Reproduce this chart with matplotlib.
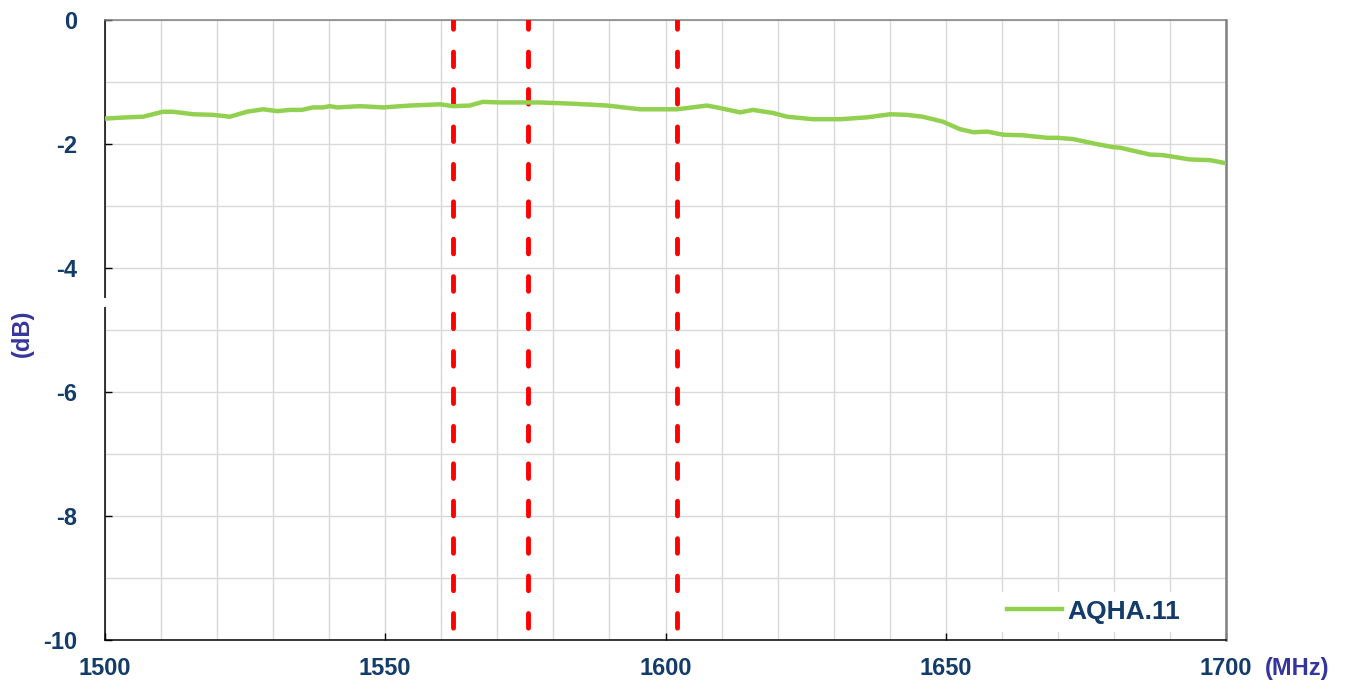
"""Insertion loss of AQHA.11 over 1500-1700 MHz with GNSS band markers."""

import matplotlib

matplotlib.use("Agg")
import matplotlib.pyplot as plt
from matplotlib.ticker import MultipleLocator

FREQ_MHZ = [
    1500, 1503.9, 1506.8, 1510.3, 1512.1, 1515.7, 1519.3, 1522.3, 1525.3, 1528.2,
    1530.7, 1533.0, 1535.1, 1537.1, 1538.9, 1540.1, 1541.4, 1545.5, 1549.6, 1554.4,
    1559.8, 1562.1, 1565.1, 1567.4, 1570.5, 1574.5, 1577.6, 1583.5, 1589.6, 1595.5,
    1602.1, 1607.4, 1609.2, 1613.3, 1615.6, 1619.2, 1621.7, 1626.3, 1631.1, 1636.0,
    1640.1, 1643.1, 1645.9, 1649.5, 1652.5, 1654.9, 1657.4, 1660.2, 1663.8, 1668.1,
    1669.8, 1672.7, 1676.3, 1679.8, 1681.1, 1686.4, 1688.8, 1693.6, 1697.1, 1700,
]
LOSS_DB = [
    -1.59, -1.57, -1.56, -1.48, -1.48, -1.52, -1.53, -1.56, -1.48, -1.44,
    -1.47, -1.45, -1.45, -1.41, -1.41, -1.39, -1.41, -1.39, -1.41, -1.38,
    -1.36, -1.39, -1.38, -1.32, -1.33, -1.33, -1.33, -1.35, -1.38, -1.44,
    -1.44, -1.38, -1.41, -1.49, -1.45, -1.50, -1.56, -1.60, -1.60, -1.57,
    -1.52, -1.53, -1.56, -1.64, -1.76, -1.81, -1.80, -1.85, -1.86, -1.90,
    -1.90, -1.92, -1.99, -2.05, -2.06, -2.17, -2.18, -2.25, -2.26, -2.31,
]
SERIES_LABEL = "AQHA.11"

# band marker frequencies (BeiDou B1, GPS L1, GLONASS L1)
MARKERS_MHZ = [1562.0, 1575.42, 1602.0]

X_LIMITS = (1500, 1700)
Y_LIMITS = (-10, 0)

TICK_COLOR = "#133C6B"
UNIT_COLOR = "#35359E"
GREEN = "#92D050"
RED = "#FF0000"
GRID = "#D9D9D9"

plt.rcParams["font.family"] = ["Liberation Sans", "DejaVu Sans"]
plt.rcParams["font.weight"] = "bold"
plt.rcParams["axes.unicode_minus"] = False

fig = plt.figure(figsize=(13.46, 6.89), dpi=100)
ax = fig.add_axes([105 / 1346, 1 - 640 / 689, 1121 / 1346, 620 / 689])

ax.set_xlim(*X_LIMITS)
ax.set_ylim(*Y_LIMITS)
ax.xaxis.set_major_locator(MultipleLocator(50))
ax.xaxis.set_minor_locator(MultipleLocator(10))
ax.yaxis.set_major_locator(MultipleLocator(2))
ax.yaxis.set_minor_locator(MultipleLocator(1))
ax.grid(True, which="both", color=GRID, linewidth=1.0, zorder=0)
ax.set_axisbelow(True)

ax.tick_params(axis="both", which="major", direction="in", length=5, width=1,
               color="#000000", labelsize=17, labelcolor=TICK_COLOR)
ax.tick_params(axis="y", which="major", pad=20)
ax.tick_params(axis="x", which="major", pad=12)
ax.tick_params(axis="both", which="minor", length=0)
for lbl in ax.get_xticklabels() + ax.get_yticklabels():
    lbl.set_fontweight("bold")

for side in ("left", "bottom"):
    ax.spines[side].set_color("#000000")
    ax.spines[side].set_linewidth(1.1)
ax.spines["top"].set_color("#808080")
ax.spines["top"].set_linewidth(1.1)
ax.spines["right"].set_color("#808080")
ax.spines["right"].set_linewidth(1.8)

# small break in the left axis line, as in the original export
ax.plot([0, 0], [0.537, 0.5516], transform=ax.transAxes, color="white",
        linewidth=3, clip_on=False, zorder=6, solid_capstyle="butt")

ax.vlines(MARKERS_MHZ, Y_LIMITS[1], Y_LIMITS[0], colors=RED, linewidth=3.5,
          linestyles=[(1.2, (3.0, 4.7))], capstyle="round", zorder=3)

ax.plot(FREQ_MHZ, LOSS_DB, color=GREEN, linewidth=3.2, label=SERIES_LABEL,
        zorder=4, solid_joinstyle="round")

leg = ax.legend(loc="center left", bbox_to_anchor=(0.798, 0.0456), fontsize=19,
                handlelength=2.05, handletextpad=0.2, borderpad=0.3,
                borderaxespad=0, frameon=True, fancybox=False, framealpha=1)
leg.get_frame().set_edgecolor("none")
leg.get_frame().set_facecolor("white")
for txt in leg.get_texts():
    txt.set_color(TICK_COLOR)
    txt.set_fontweight("bold")

fig.text(1265 / 1346, 1 - 668 / 689, "(MHz)", fontsize=17, color=UNIT_COLOR,
         fontweight="bold", ha="left", va="center")
fig.text(22 / 1346, 1 - 333 / 689, "(dB)", fontsize=17, color=UNIT_COLOR,
         fontweight="bold", ha="center", va="center", rotation=90)

fig.savefig("out.png", dpi=100)
plt.close(fig)
